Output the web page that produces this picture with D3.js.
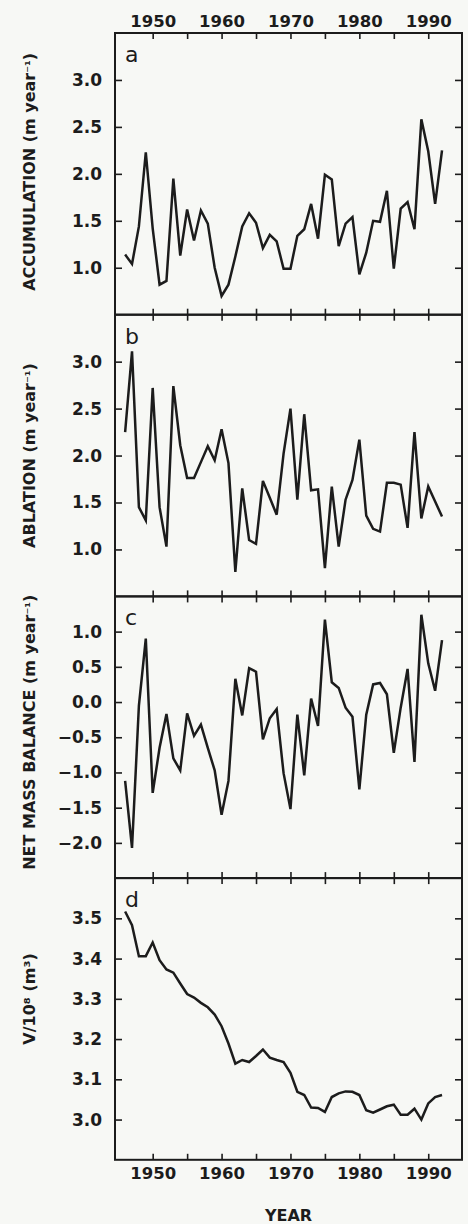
<!DOCTYPE html>
<html>
<head>
<meta charset="utf-8">
<script src="https://cdn.jsdelivr.net/npm/d3@7"></script>
<style>
  body { margin: 0; background: #f7f8f5; }
  svg { display: block; }
  .tick text { font-family: "DejaVu Sans", sans-serif; font-weight: bold; fill: #1c1c1c; }
  .tick line { stroke: #1c1c1c; stroke-width: 1.6; }
</style>
</head>
<body>
<div id="chart"></div>
<script>
// hydrological years
var years = [1946, 1947, 1948, 1949, 1950, 1951, 1952, 1953, 1954, 1955,
             1956, 1957, 1958, 1959, 1960, 1961, 1962, 1963, 1964, 1965,
             1966, 1967, 1968, 1969, 1970, 1971, 1972, 1973, 1974, 1975,
             1976, 1977, 1978, 1979, 1980, 1981, 1982, 1983, 1984, 1985,
             1986, 1987, 1988, 1989, 1990, 1991, 1992];

var accumulation = [1.14, 1.04, 1.44, 2.23, 1.42, 0.82, 0.86, 1.95, 1.13, 1.62,
                    1.29, 1.61, 1.47, 1.00, 0.70, 0.82, 1.12, 1.44, 1.58, 1.48,
                    1.21, 1.35, 1.28, 0.99, 0.99, 1.34, 1.41, 1.68, 1.31, 1.99,
                    1.94, 1.23, 1.47, 1.54, 0.93, 1.16, 1.50, 1.49, 1.82, 0.99,
                    1.63, 1.70, 1.41, 2.58, 2.24, 1.68, 2.25];

var ablation = [2.25, 3.11, 1.45, 1.31, 2.72, 1.45, 1.03, 2.74, 2.11, 1.76,
                1.76, 1.93, 2.10, 1.95, 2.28, 1.92, 0.76, 1.65, 1.10, 1.06,
                1.73, 1.55, 1.37, 2.02, 2.50, 1.53, 2.44, 1.63, 1.64, 0.80,
                1.67, 1.03, 1.53, 1.74, 2.17, 1.36, 1.22, 1.19, 1.71, 1.71,
                1.69, 1.23, 2.25, 1.33, 1.67, 1.51, 1.35];

var netBalance = [-1.12, -2.07, -0.05, 0.90, -1.29, -0.65, -0.17, -0.80, -0.97, -0.16,
                  -0.48, -0.32, -0.65, -0.97, -1.60, -1.12, 0.33, -0.19, 0.48, 0.43,
                  -0.53, -0.23, -0.10, -1.01, -1.52, -0.18, -1.04, 0.05, -0.34, 1.17,
                  0.28, 0.20, -0.08, -0.21, -1.24, -0.18, 0.25, 0.27, 0.11, -0.72,
                  -0.08, 0.47, -0.85, 1.24, 0.55, 0.16, 0.88];

var volume = [3.517, 3.483, 3.406, 3.406, 3.440, 3.396, 3.373, 3.365, 3.338, 3.312,
              3.303, 3.290, 3.279, 3.261, 3.232, 3.189, 3.139, 3.148, 3.143, 3.158,
              3.174, 3.154, 3.148, 3.143, 3.116, 3.069, 3.061, 3.030, 3.029, 3.019,
              3.056, 3.065, 3.070, 3.069, 3.061, 3.023, 3.017, 3.025, 3.033, 3.037,
              3.012, 3.012, 3.027, 3.000, 3.040, 3.056, 3.061];

var yearTicks = [1950, 1955, 1960, 1965, 1970, 1975, 1980, 1985, 1990];
var yearLabels = [1950, 1960, 1970, 1980, 1990];

var accTicks = [1.0, 1.5, 2.0, 2.5, 3.0];
var ablTicks = [1.0, 1.5, 2.0, 2.5, 3.0];
var netTicks = [-2.0, -1.5, -1.0, -0.5, 0.0, 0.5, 1.0];
var volTicks = [3.0, 3.1, 3.2, 3.3, 3.4, 3.5];

var panels = [
    {letter: "a", values: accumulation, domain: [0.5, 3.5], ticks: accTicks,
     title: "ACCUMULATION (m year", sup: "⁻¹", tail: ")", shift: -2},
    {letter: "b", values: ablation, domain: [0.5, 3.5], ticks: ablTicks,
     title: "ABLATION (m year", sup: "⁻¹", tail: ")", shift: 0},
    {letter: "c", values: netBalance, domain: [-2.5, 1.5], ticks: netTicks,
     title: "NET MASS BALANCE (m year", sup: "⁻¹", tail: ")", shift: -5},
    {letter: "d", values: volume, domain: [2.9, 3.6], ticks: volTicks,
     title: "V/10⁸ (m³)", sup: "", tail: "", shift: -20}
];

var W = 468, H = 1224;
var margin = {left: 115, right: 6, top: 33};
var panelH = 281.7;
var plotW = W - margin.left - margin.right;
var ink = "#1c1c1c";

var svg = d3.select("#chart").append("svg")
    .attr("width", W)
    .attr("height", H);

var x = d3.scaleLinear()
    .domain([1944.53, 1994.9])
    .range([margin.left, margin.left + plotW]);

panels.forEach(function (p, i) {
    var top = margin.top + i * panelH;
    var bottom = top + panelH;
    var y = d3.scaleLinear().domain(p.domain).range([bottom, top]);
    var g = svg.append("g");

    // frame
    g.append("rect")
        .attr("x", margin.left)
        .attr("y", top)
        .attr("width", plotW)
        .attr("height", panelH)
        .attr("fill", "none")
        .attr("stroke", ink)
        .attr("stroke-width", 2);

    // x ticks, inward on top and bottom
    var topAxis = d3.axisTop(x).tickValues(yearTicks).tickSize(-6).tickPadding(6)
        .tickFormat(function (d) { return (i === 0 && yearLabels.indexOf(d) >= 0) ? d : ""; });
    var botAxis = d3.axisBottom(x).tickValues(yearTicks).tickSize(-6).tickPadding(7)
        .tickFormat(function (d) { return (i === panels.length - 1 && yearLabels.indexOf(d) >= 0) ? d : ""; });

    g.append("g").attr("transform", "translate(0," + top + ")").call(topAxis)
        .call(function (s) { s.select(".domain").remove(); })
        .selectAll("text").style("font-size", "16.5px");
    g.append("g").attr("transform", "translate(0," + bottom + ")").call(botAxis)
        .call(function (s) { s.select(".domain").remove(); })
        .selectAll("text").style("font-size", "16.5px");

    // y ticks, inward on left and right
    var leftAxis = d3.axisLeft(y).tickValues(p.ticks).tickSize(-7).tickPadding(13)
        .tickFormat(d3.format(".1f"));
    var rightAxis = d3.axisRight(y).tickValues(p.ticks).tickSize(-7).tickFormat("");

    g.append("g").attr("transform", "translate(" + margin.left + ",0)").call(leftAxis)
        .call(function (s) { s.select(".domain").remove(); })
        .selectAll("text").style("font-size", "17px");
    g.append("g").attr("transform", "translate(" + (margin.left + plotW) + ",0)").call(rightAxis)
        .call(function (s) { s.select(".domain").remove(); });

    // series line
    var line = d3.line()
        .x(function (d, k) { return x(years[k]); })
        .y(function (d) { return y(d); });

    g.append("path")
        .datum(p.values)
        .attr("d", line)
        .attr("fill", "none")
        .attr("stroke", ink)
        .attr("stroke-width", 2.5)
        .attr("stroke-linejoin", "miter");

    // panel letter
    g.append("text")
        .attr("x", margin.left + 10)
        .attr("y", top + 29)
        .attr("font-family", "DejaVu Sans, sans-serif")
        .attr("font-size", 22)
        .attr("fill", ink)
        .text(p.letter);

    // rotated y title
    var cy = (top + bottom) / 2 + p.shift;
    var t = g.append("text")
        .attr("transform", "translate(29," + cy + ") rotate(-90)")
        .attr("text-anchor", "middle")
        .attr("dominant-baseline", "central")
        .attr("font-family", "DejaVu Sans, sans-serif")
        .attr("font-weight", "bold")
        .attr("font-size", 16)
        .attr("fill", ink);
    t.append("tspan").text(p.title);
    if (p.sup) t.append("tspan").attr("font-size", 13).text(p.sup);
    if (p.tail) t.append("tspan").text(p.tail);
});

// x title
svg.append("text")
    .attr("x", margin.left + plotW / 2)
    .attr("y", 1221)
    .attr("text-anchor", "middle")
    .attr("font-family", "DejaVu Sans, sans-serif")
    .attr("font-weight", "bold")
    .attr("font-size", 16)
    .attr("fill", ink)
    .text("YEAR");
</script>
</body>
</html>
